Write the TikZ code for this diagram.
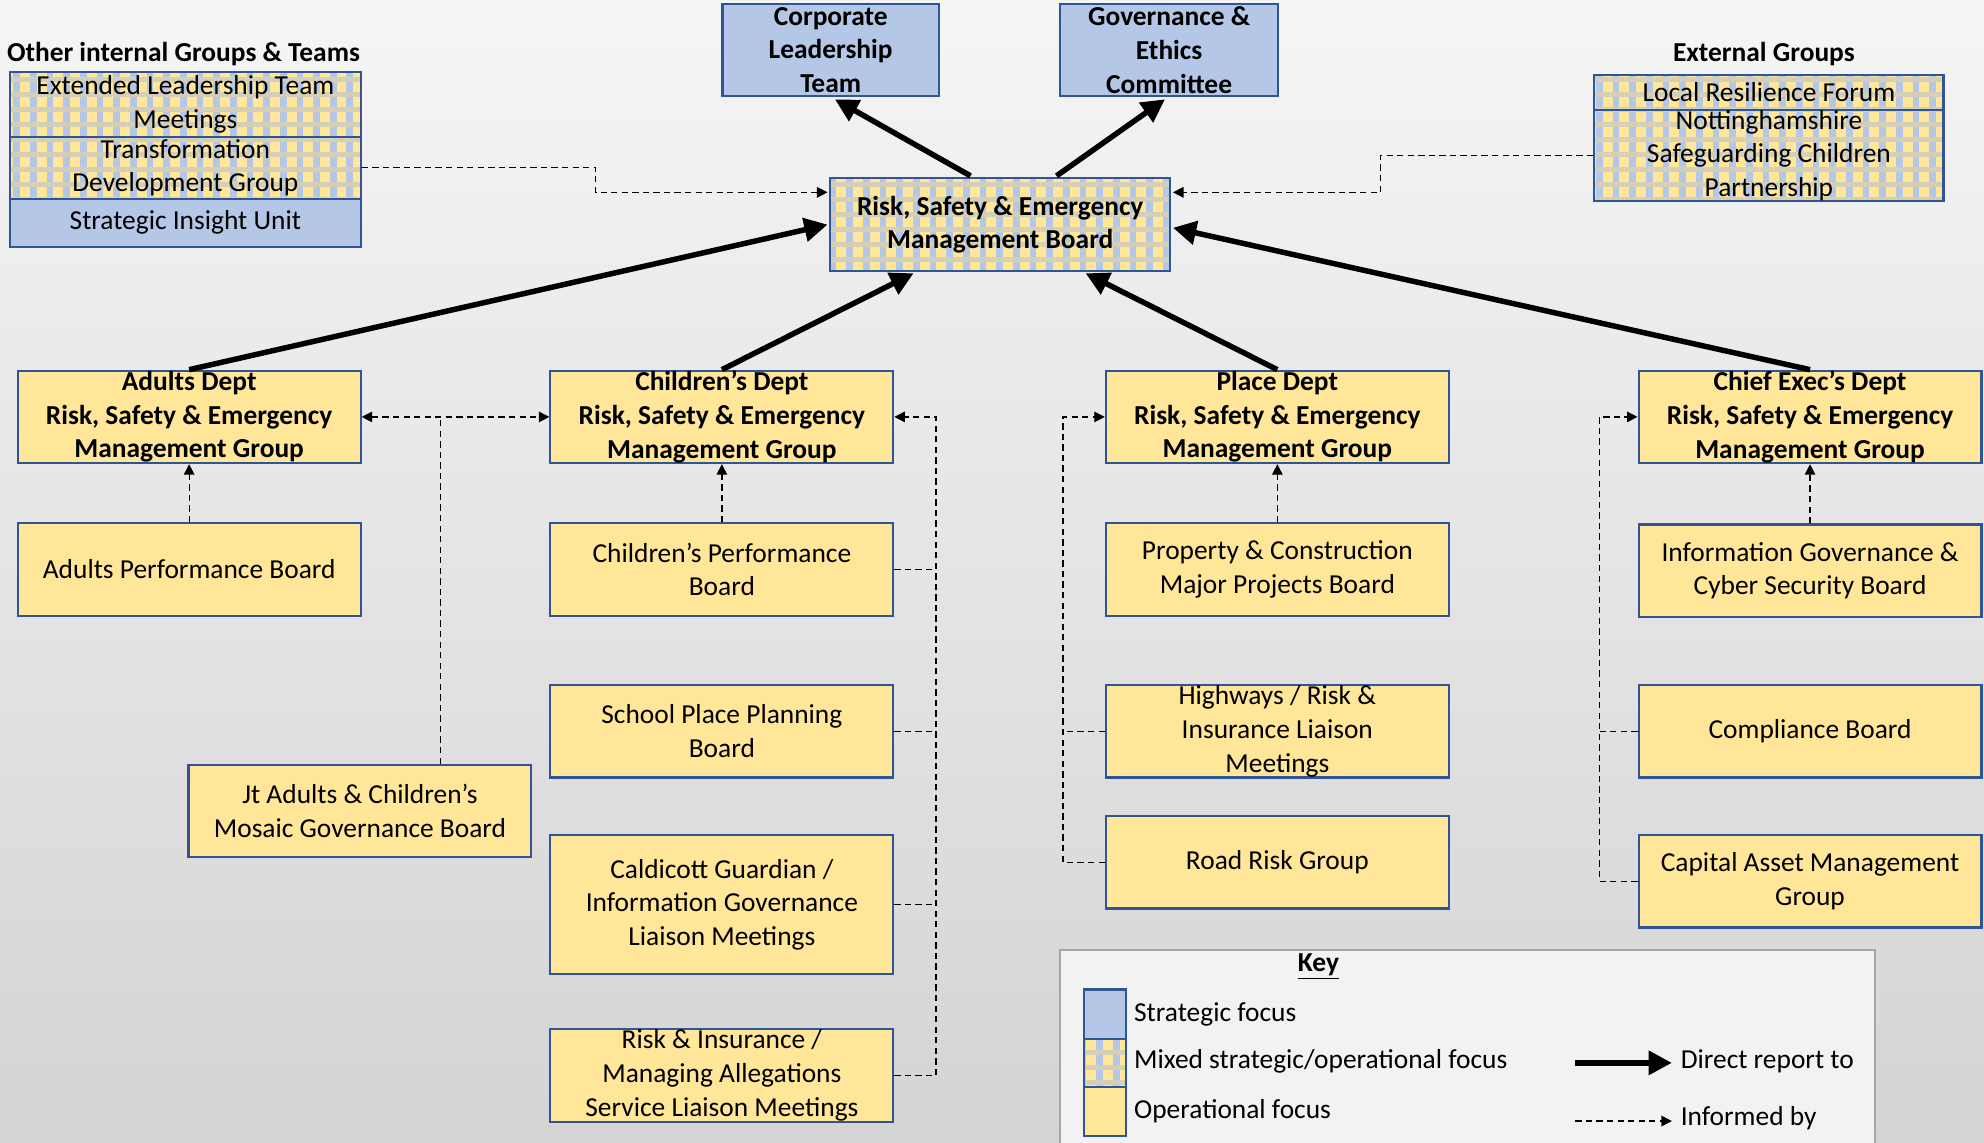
\documentclass[tikz,border=0pt]{standalone}
\usepackage{fontspec}
\setmainfont{Carlito}
\usetikzlibrary{arrows.meta,patterns.meta}

\definecolor{stratblue}{HTML}{B4C7E7}
\definecolor{opyellow}{HTML}{FFE699}
\definecolor{edgeblue}{HTML}{2F5597}
\definecolor{bandgrey}{HTML}{D3CFB9}
\definecolor{bgtop}{HTML}{F5F5F5}
\definecolor{bgbot}{HTML}{D4D4D4}
\definecolor{keyfill}{HTML}{F2F2F2}
\definecolor{keyedge}{HTML}{A6A6A6}

\tikzset{
	box/.style={draw=edgeblue, line width=1pt, align=center, inner sep=0pt,
		minimum width=162.6pt, minimum height=43.8pt, font=\fontsize{13}{16}\selectfont},
	strat/.style={box, fill=stratblue},
	oper/.style={box, fill=opyellow},
	mixed/.style={box, preaction={fill=opyellow},
		preaction={pattern={Lines[angle=90,distance=7.9pt,line width=3.2pt]}, pattern color=stratblue},
		pattern={Lines[angle=0,distance=7.1pt,line width=2.4pt]}, pattern color=bandgrey},
	bold/.style={font=\fontsize{13}{16}\selectfont\bfseries},
	report/.style={line width=2.6pt, -{Triangle[length=11pt,width=11pt]}},
	inform/.style={densely dashed, line width=0.6pt, -{Triangle[length=5pt,width=5pt]}},
	informline/.style={densely dashed, line width=0.6pt},
}

\begin{document}
\begin{tikzpicture}[x=0.6pt, y=-0.6pt]
	
	% Background
	\useasboundingbox (0,0) rectangle (1568,903);
	\fill[top color=bgtop, bottom color=bgbot] (0,0) rectangle (1568,903);
	
	% Board and committees
	\node[strat, bold, minimum width=102.6pt] (clt) at (656.5,39.5) {Corporate\\Leadership\\Team};
	\node[strat, bold, minimum width=103.2pt] (gec) at (924,39.5) {Governance \&\\Ethics\\Committee};
	\node[mixed, bold, minimum width=161.4pt] (rsemb) at (790.5,177.5) {Risk, Safety \& Emergency\\Management Board};
	
	% Other internal groups
	\node[bold] (oigt) at (145,43) {Other internal Groups \& Teams};
	\node[mixed, minimum width=166.2pt, minimum height=30.6pt] (elt) at (146.5,82.5) {Extended Leadership Team\\Meetings};
	\node[mixed, minimum width=166.2pt, minimum height=29.4pt] (tdg) at (146.5,132.5) {Transformation\\Development Group};
	\node[strat, minimum width=166.2pt, minimum height=22.8pt] (siu) at (146.5,176) {Strategic Insight Unit};
	
	% External groups
	\node[bold] (extg) at (1394,43) {External Groups};
	\node[mixed, minimum width=165.6pt, minimum height=16.8pt] (lrf) at (1398,73) {Local Resilience Forum};
	\node[mixed, minimum width=165.6pt, minimum height=43.2pt] (nscp) at (1398,123) {Nottinghamshire\\Safeguarding Children\\Partnership};
	
	% Departments
	\node[oper, bold] (adp) at (149.5,329.5) {Adults Dept\\Risk, Safety \& Emergency\\Management Group};
	\node[oper, bold] (chd) at (570.5,329.5) {Children’s Dept\\Risk, Safety \& Emergency\\Management Group};
	\node[oper, bold] (pld) at (1009.5,329.5) {Place Dept\\Risk, Safety \& Emergency\\Management Group};
	\node[oper, bold] (ced) at (1430.5,329.5) {Chief Exec’s Dept\\Risk, Safety \& Emergency\\Management Group};
	
	% Boards and groups below
	\node[oper] (apb) at (149.5,450) {Adults Performance Board};
	\node[oper] (jt) at (284.5,641) {Jt Adults \& Children’s\\Mosaic Governance Board};
	\node[oper] (cpb) at (570.5,450) {Children’s Performance\\Board};
	\node[oper] (spb) at (570.5,578) {School Place Planning\\Board};
	\node[oper, minimum height=66pt] (cald) at (570.5,715) {Caldicott Guardian /\\Information Governance\\Liaison Meetings};
	\node[oper] (rib) at (570.5,850) {Risk \& Insurance /\\Managing Allegations\\Service Liaison Meetings};
	\node[oper] (pcb) at (1009.5,450) {Property \& Construction\\Major Projects Board};
	\node[oper] (hwy) at (1009.5,578) {Highways / Risk \&\\Insurance Liaison\\Meetings};
	\node[oper] (rrg) at (1009.5,681.5) {Road Risk Group};
	\node[oper] (igc) at (1430.5,451) {Information Governance \&\\Cyber Security Board};
	\node[oper] (cpl) at (1430.5,578) {Compliance Board};
	\node[oper] (cam) at (1430.5,696.5) {Capital Asset Management\\Group};
	
	% Direct reports
	\draw[report] ([xshift=-14.1pt]rsemb.north) -- ([xshift=2pt,yshift=-1pt]clt.south);
	\draw[report] ([xshift=26.7pt]rsemb.north) -- ([xshift=-2pt,yshift=-1pt]gec.south);
	\draw[report] (adp.north) -- (rsemb.west);
	\draw[report] (chd.north) -- ([xshift=-41.1pt]rsemb.south);
	\draw[report] (pld.north) -- ([xshift=40.5pt]rsemb.south);
	\draw[report] (ced.north) -- ([yshift=-1.5pt]rsemb.east);
	
	% Informed by
	\draw[inform] (tdg.east) -- ++(185,0) |- ([yshift=15.3pt]rsemb.west);
	\draw[inform] (nscp.west) -- ++(-168,0) |- ([yshift=15.3pt]rsemb.east);
	\draw[inform, {Triangle[length=5pt,width=5pt]}-{Triangle[length=5pt,width=5pt]}] (adp.east) -- (chd.west);
	\draw[informline] ([xshift=38.1pt]jt.north) -- ([xshift=38.1pt]jt.north |- adp.east);
	\draw[inform] (apb.north) -- (adp.south);
	\draw[inform] (cpb.north) -- (chd.south);
	\draw[inform] (pcb.north) -- (pld.south);
	\draw[inform] (igc.north) -- (ced.south);
	\draw[inform] (rib.east) -- ++(33,0) |- (chd.east);
	\foreach \n in {cpb,spb,cald}{
		\draw[informline] (\n.east) -- ++(33,0);
	}
	\draw[inform] (rrg.west) -- ++(-33,0) |- (pld.west);
	\draw[informline] (hwy.west) -- ++(-33,0);
	\draw[inform] (cam.west) -- ++(-30,0) |- (ced.west);
	\draw[informline] (cpl.west) -- ++(-30,0);
	
	% Key
	\node[draw=keyedge, line width=1pt, fill=keyfill, minimum width=386.4pt, minimum height=98.4pt] (keybox) at (1160,833) {};
	\node[bold] (keyttl) at (1042,764) {\underline{Key}};
	\node[strat, minimum width=19.8pt, minimum height=23.4pt] (kstrat) at (873.5,801.5) {};
	\node[mixed, minimum width=19.8pt, minimum height=22.8pt] (kmix) at (873.5,840) {};
	\node[oper, minimum width=19.8pt, minimum height=23.4pt] (kop) at (873.5,878.5) {};
	\node[font=\fontsize{13}{16}\selectfont, anchor=west, inner sep=0pt] (lstrat) at (896,802) {Strategic focus};
	\node[font=\fontsize{13}{16}\selectfont, anchor=west, inner sep=0pt] (lmix) at (896,839) {Mixed strategic/operational focus};
	\node[font=\fontsize{13}{16}\selectfont, anchor=west, inner sep=0pt] (lop) at (896,878) {Operational focus};
	\node[font=\fontsize{13}{16}\selectfont, anchor=west, inner sep=0pt] (lrep) at (1328,839) {Direct report to};
	\node[font=\fontsize{13}{16}\selectfont, anchor=west, inner sep=0pt] (linf) at (1328,884) {Informed by};
	\coordinate (krep) at (1245,840);
	\coordinate (kinf) at (1245,886);
	\draw[report] (krep) -- ([xshift=-4pt]lrep.west |- krep);
	\draw[inform] (kinf) -- ([xshift=-4pt]linf.west |- kinf);
	
\end{tikzpicture}
\end{document}
